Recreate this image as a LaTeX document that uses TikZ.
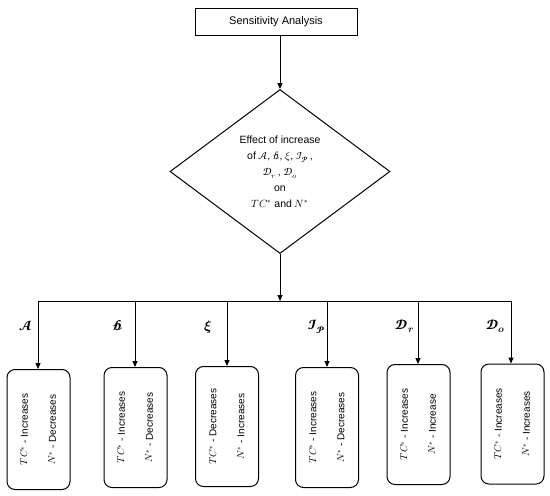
\documentclass[tikz,border=0pt]{standalone}
\usepackage{fontspec}
\usepackage{unicode-math}
\setmainfont{Liberation Sans}
\setmathfont{Latin Modern Math}
\IfFontExistsTF{STIX Two Math}{\setmathfont[range={scr,bfscr}]{STIX Two Math}}{%
  \IfFontExistsTF{XITS Math}{\setmathfont[range={scr,bfscr}]{XITS Math}}{}}
\usetikzlibrary{shapes.geometric,arrows.meta}
\tikzset{
  ln/.style={line width=1pt, draw=black},
  arr/.style={ln, -{Triangle[length=6pt,width=5pt]}},
  resbox/.style={ln, rounded corners=8pt, minimum width=63pt, minimum height=120pt, inner sep=0pt},
  restext/.style={rotate=90, font=\fontsize{10}{28}\selectfont, align=center, inner sep=0pt},
  lbl/.style={anchor=east, font=\fontsize{14}{16}\selectfont, inner sep=0pt},
}
\begin{document}
\begin{tikzpicture}[x=1pt,y=-1pt]
\useasboundingbox (0,0) rectangle (550,496);
\node[ln, draw, minimum width=162pt, minimum height=27pt, inner sep=0pt, font=\fontsize{11}{13}\selectfont] (top) at (276,21.5) {Sensitivity Analysis};
\node[ln, draw, shape=diamond, minimum width=220pt, minimum height=164pt, inner sep=0pt] (dia) at (280,171.5) {};
\node[align=center, font=\fontsize{10.5}{16}\selectfont, inner sep=0pt] (diatext) at (280,172)
  {Effect of increase\\ of $\symscr{A}$, $\symscr{b}$, $\xi$, $\symscr{I}_{\symscr{P}}$\,,\\ $\symscr{D}_r$\,, $\symscr{D}_o$\\ on\\ $TC^{*}$ and $N^{*}$};
\coordinate (topbot) at (280,35);
\draw[arr] (topbot) -- (dia.north);
\coordinate (bus) at (280,301);
\draw[arr] (dia.south) -- (bus);
\coordinate (bl) at (38,301);
\coordinate (br) at (511,301);
\draw[ln] (bl) -- (br);
% boxes
\node[resbox, draw] (b1) at (38.5,429.5) {};
\node[resbox, draw] (b2) at (135.5,427.5) {};
\node[resbox, draw] (b3) at (227,426.5) {};
\node[resbox, draw] (b4) at (327,427.5) {};
\node[resbox, draw] (b5) at (418.5,424.5) {};
\node[resbox, draw] (b6) at (512.5,424) {};
\node[restext] (t1) at (b1) {$TC^{*}$ - Increases\\ $N^{*}$ - Decreases};
\node[restext] (t2) at (b2) {$TC^{*}$ - Increases\\ $N^{*}$ - Decreases};
\node[restext] (t3) at (b3) {$TC^{*}$ - Decreases\\ $N^{*}$ - Increases};
\node[restext] (t4) at (b4) {$TC^{*}$ - Increases\\ $N^{*}$ - Decreases};
\node[restext] (t5) at (b5) {$TC^{*}$ - Increases\\ $N^{*}$ - Increase};
\node[restext] (t6) at (b6) {$TC^{*}$ - Increases\\ $N^{*}$ - Increases};
\foreach \i/\x in {1/38,2/135,3/227,4/327,5/418,6/511}{
  \coordinate (c\i) at (\x,301);
  \draw[arr] (c\i) -- (c\i |- b\i.north);
}
\node[lbl] (l1) at (33,326) {$\symbfscr{A}$};
\node[lbl] (l2) at (123,326) {$\symbfscr{b}$};
\node[lbl] (l3) at (212,327) {$\symbfit{\xi}$};
\node[lbl] (l4) at (325,327) {$\symbfscr{I}_{\symbfscr{P}}$};
\node[lbl] (l5) at (414,326) {$\symbfscr{D}_{\symbfit{r}}$};
\node[lbl] (l6) at (505,326) {$\symbfscr{D}_{\symbfit{o}}$};
\end{tikzpicture}
\end{document}
